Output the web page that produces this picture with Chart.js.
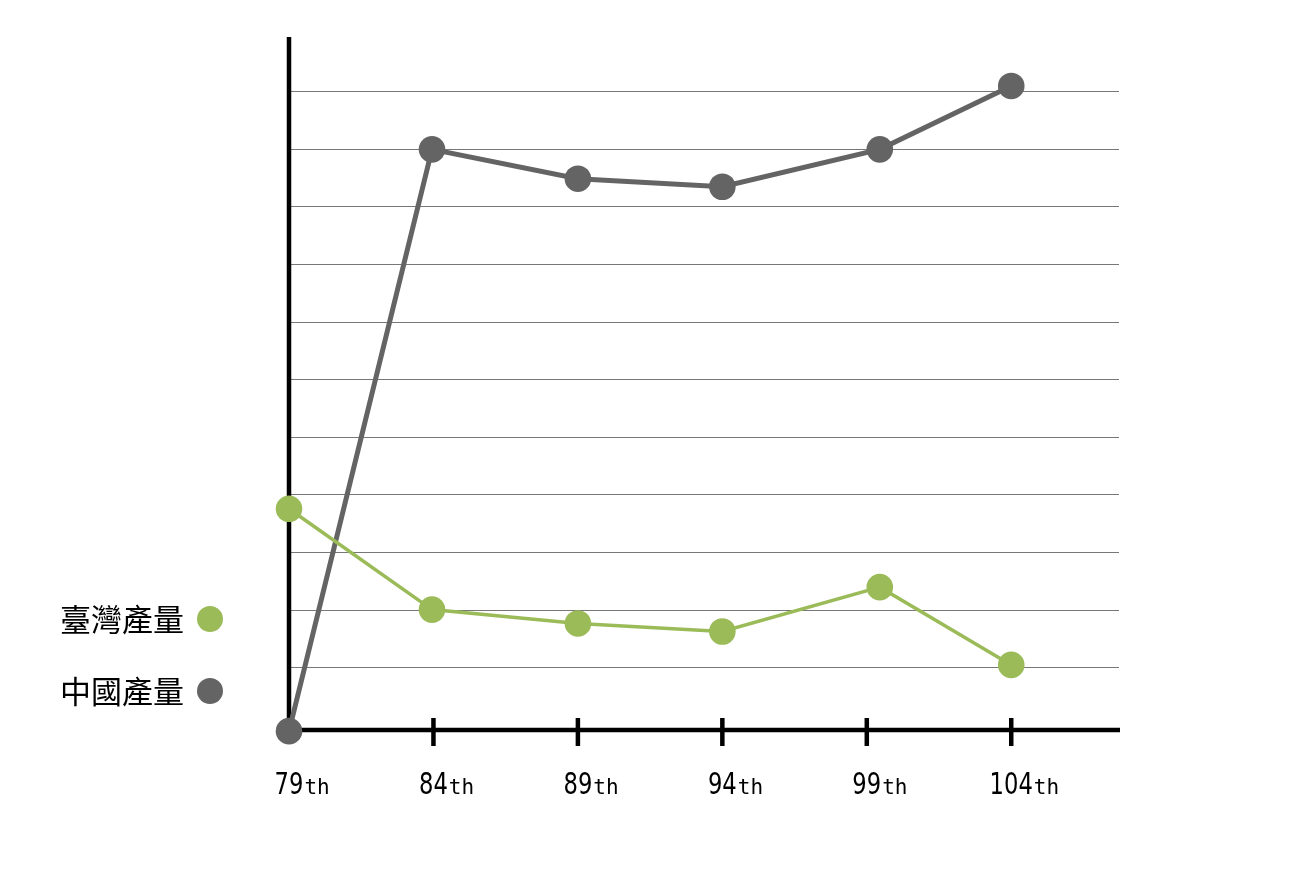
<!DOCTYPE html>
<html>
<head>
<meta charset="utf-8">
<script src="https://cdn.jsdelivr.net/npm/chart.js@4"></script>
<style>
html,body{margin:0;padding:0;background:#fff;}
#wrap{width:1314px;height:877px;position:relative;}
</style>
</head>
<body>
<div id="wrap"><canvas id="c"></canvas></div>
<script>
const sessions = [79, 84, 89, 94, 99, 104];
// where each session's points sit along the x scale
const pointSessions = [79, 83.95, 89, 94, 99.45, 104];
const tickNumbers = ['79', '84', '89', '94', '99', '104'];
const tickSuffix = 'th';
const seriesNames = ['臺灣產量', '中國產量'];
const taiwanValues = [3.76, 2.01, 1.77, 1.63, 2.40, 1.05];
const chinaValues = [-0.10, 10.0, 9.49, 9.35, 10.0, 11.1];
const seriesColors = ['#9bbb59', '#646464'];

const toPoints = vals => pointSessions.map((s, i) => ({x: s, y: vals[i]}));

const axisPlugin = {
  id: 'axisPlugin',
  beforeDatasetsDraw(chart) {
    const ctx = chart.ctx, a = chart.chartArea, xs = chart.scales.x;
    ctx.save();
    ctx.strokeStyle = '#000';
    ctx.lineWidth = 4.5;
    ctx.lineCap = 'butt';
    ctx.beginPath();
    ctx.moveTo(a.left, a.top);
    ctx.lineTo(a.left, a.bottom + 2.25);
    ctx.moveTo(a.left - 2.25, a.bottom);
    ctx.lineTo(a.right + 1, a.bottom);
    ctx.stroke();
    ctx.beginPath();
    sessions.slice(1).forEach(s => {
      const x = xs.getPixelForValue(s);
      ctx.moveTo(x, a.bottom - 12);
      ctx.lineTo(x, a.bottom + 16);
    });
    ctx.stroke();
    ctx.restore();
  },
  afterDraw(chart) {
    const ctx = chart.ctx, xs = chart.scales.x;
    ctx.save();
    ctx.fillStyle = '#000';
    ctx.textBaseline = 'alphabetic';
    const sx = 0.84;
    sessions.forEach((s, i) => {
      const x = xs.getPixelForValue(s);
      ctx.font = '30px "DejaVu Sans Condensed", "DejaVu Sans", sans-serif';
      const w = ctx.measureText(tickNumbers[i]).width * sx;
      ctx.save();
      ctx.translate(x, 794);
      ctx.scale(sx, 1);
      ctx.textAlign = 'center';
      ctx.fillText(tickNumbers[i], 0, 0);
      ctx.restore();
      ctx.font = '21px "DejaVu Sans Mono", monospace';
      ctx.textAlign = 'left';
      ctx.fillText(tickSuffix, x + w / 2 + 1, 794);
    });
    // legend
    const rows = [619, 691];
    chart.data.datasets.forEach((ds, i) => {
      ctx.font = '31px "Noto Sans CJK TC", sans-serif';
      ctx.textAlign = 'right';
      ctx.textBaseline = 'middle';
      ctx.fillStyle = '#000';
      ctx.fillText(ds.label, 184, rows[i]);
      ctx.beginPath();
      ctx.fillStyle = ds.backgroundColor;
      ctx.arc(210, rows[i], 13, 0, Math.PI * 2);
      ctx.fill();
    });
    ctx.restore();
  }
};

new Chart(document.getElementById('c'), {
  type: 'line',
  data: {
    datasets: [
      {
        label: seriesNames[0],
        data: toPoints(taiwanValues),
        borderColor: seriesColors[0],
        backgroundColor: seriesColors[0],
        borderWidth: 3.5,
        pointRadius: 13.3,
        pointHoverRadius: 13.3,
        pointBorderWidth: 0,
        clip: false,
        tension: 0
      },
      {
        label: seriesNames[1],
        data: toPoints(chinaValues),
        borderColor: seriesColors[1],
        backgroundColor: seriesColors[1],
        borderWidth: 5,
        pointRadius: 13.3,
        pointHoverRadius: 13.3,
        pointBorderWidth: 0,
        clip: false,
        tension: 0
      }
    ]
  },
  options: {
    responsive: true,
    maintainAspectRatio: false,
    animation: false,
    events: [],
    layout: {padding: {left: 289, right: 195, top: 37, bottom: 147}},
    plugins: {legend: {display: false}, tooltip: {enabled: false}},
    scales: {
      x: {
        type: 'linear',
        min: 79,
        max: 107.73,
        ticks: {display: false},
        grid: {display: false, drawTicks: false},
        border: {display: false},
        afterFit: s => { s.height = 0; }
      },
      y: {
        type: 'linear',
        min: -0.08,
        max: 11.95,
        ticks: {display: false, stepSize: 1},
        grid: {color: '#777', lineWidth: 1, drawTicks: false},
        border: {display: false},
        afterBuildTicks: s => { s.ticks = s.ticks.filter(t => Number.isInteger(t.value) && t.value >= 1 && t.value <= 11); },
        afterFit: s => { s.width = 0; }
      }
    }
  },
  plugins: [axisPlugin]
});
</script>
</body>
</html>
